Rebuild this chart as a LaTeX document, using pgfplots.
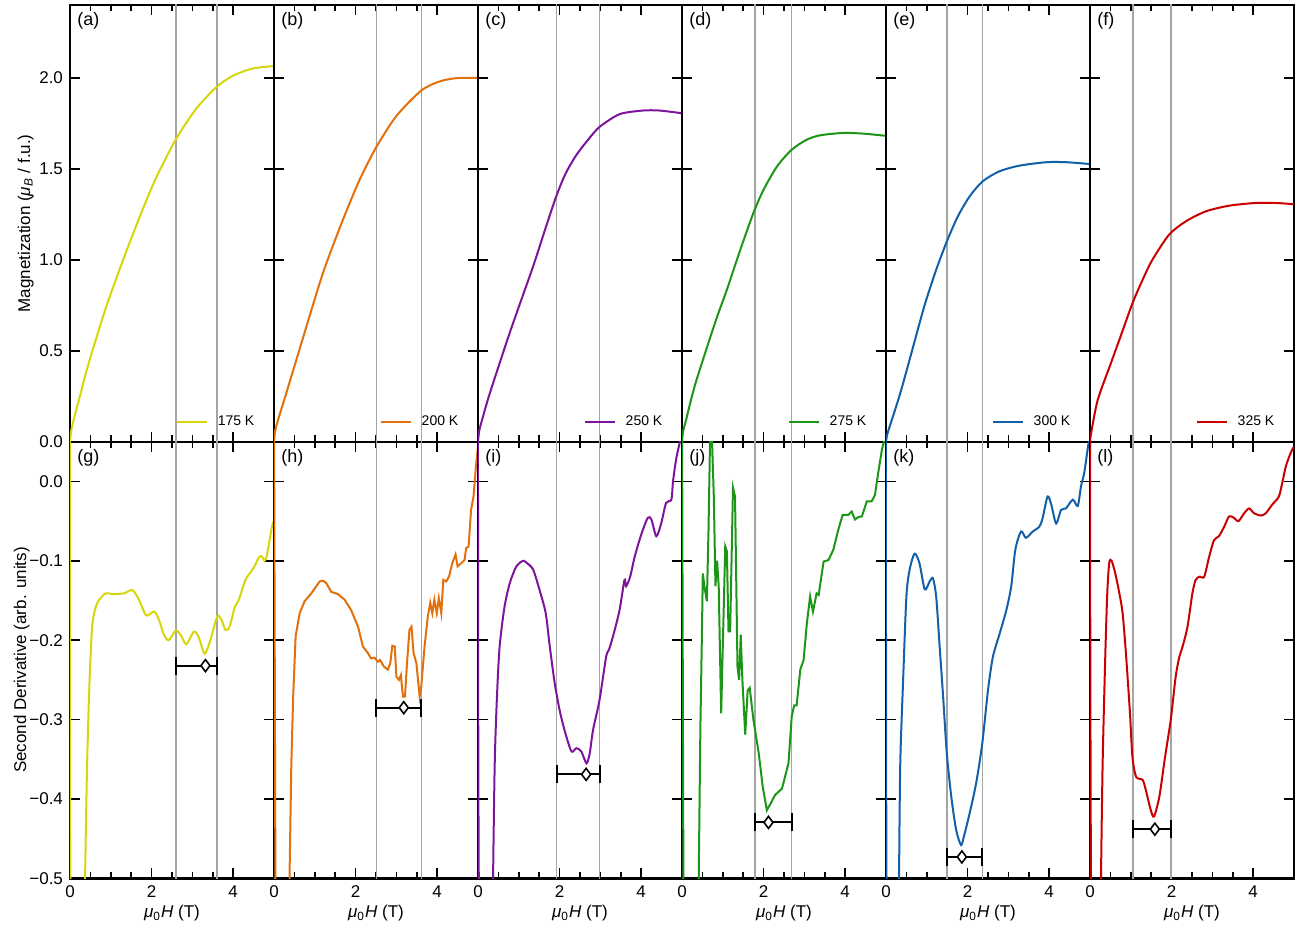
\documentclass[border=0pt]{standalone}
\usepackage{fontspec}
\setmainfont{Liberation Sans}
\usepackage{pgfplots}
\pgfplotsset{compat=1.18}
\usepgfplotslibrary{groupplots}
\definecolor{cA}{RGB}{214,214,10}
\definecolor{cB}{RGB}{226,112,12}
\definecolor{cC}{RGB}{125,20,155}
\definecolor{cD}{RGB}{28,150,22}
\definecolor{cE}{RGB}{18,96,168}
\definecolor{cF}{RGB}{202,0,0}
\definecolor{vg}{RGB}{165,165,165}
\tikzset{lab/.style={anchor=north west, inner sep=0pt, font=\fontsize{9}{10}\selectfont}}
\pgfplotsset{
  panel/.style={
    scale only axis, width=102pt, height=218.35pt,
    xmin=0, xmax=5, xtick={0,2,4}, minor x tick num=3,
    tick align=inside, major tick length=5pt, minor tick length=3.2pt,
    every tick/.style={black, line width=0.8pt},
    axis line style={line width=1.2pt},
    tick label style={font=\fontsize{8.5}{10}\selectfont},
    label style={font=\fontsize{8.5}{10}\selectfont},
    yticklabels={},
    legend style={draw=none, fill=none, at={(0.935,0.015)}, anchor=south east,
      font=\fontsize{7}{8}\selectfont, inner sep=1pt, column sep=3pt},
    legend image code/.code={\draw[#1] (0pt,0pt) -- (15pt,0pt);},
  },
  top/.style={panel, ymin=0, ymax=2.4, ytick={0,0.5,1,1.5,2}, xticklabels={}},
  bot/.style={panel, ymin=-0.5, ymax=0.05, ytick={-0.5,-0.4,-0.3,-0.2,-0.1,0},
    xticklabels={0,2,4}, xlabel={\textit{μ}\textsubscript{0}\textit{H} (T)},
    xlabel style={yshift=3pt}},
  vl/.style={vg, line width=0.75pt, forget plot},
  cur/.style={line width=1pt},
  sm/.style={line width=1pt, smooth, tension=0.45},
  eb/.style={black, line width=1pt, mark=|, mark size=4.5pt, forget plot,
    mark options={solid, line width=1pt}},
  dm/.style={only marks, mark=diamond*, mark size=3pt, forget plot,
    mark options={fill=white, draw=black, line width=0.8pt}},
}
\begin{document}
\begin{tikzpicture}
\begin{groupplot}[group style={group size=6 by 2, horizontal sep=0pt, vertical sep=0pt, group name=G}]
% ---------------- top row
\nextgroupplot[top, yticklabels={0.0,0.5,1.0,1.5,2.0}, ylabel={Magnetization (\textit{μ}\textsubscript{\textit{B}} / f.u.)}, ylabel shift=-4pt]
\addplot[vl] coordinates {(2.6,-1)(2.6,3)};
\addplot[vl] coordinates {(3.6,-1)(3.6,3)};
\addplot[cA, sm] coordinates {(0,0)(0.03,0.06)(0.1,0.13)(0.22,0.23)(0.43,0.41)(0.87,0.73)(1.32,1.01)(1.49,1.11)(1.77,1.27)(2.10,1.445)(2.59,1.66)(3.08,1.826)(3.57,1.945)(3.97,2.009)(4.46,2.05)(4.95,2.064)(5,2.065)};
\addlegendentry{175 K}
\node[lab] at (rel axis cs:0.034,0.984) {(a)};

\nextgroupplot[top]
\addplot[vl] coordinates {(2.51,-1)(2.51,3)};
\addplot[vl] coordinates {(3.61,-1)(3.61,3)};
\addplot[cB, sm] coordinates {(0,0)(0.03,0.06)(0.1,0.12)(0.30,0.266)(0.71,0.57)(1.20,0.927)(1.69,1.22)(2.10,1.44)(2.51,1.62)(3.00,1.79)(3.61,1.93)(4.06,1.98)(4.47,1.998)(5,2.0)};
\addlegendentry{200 K}
\node[lab] at (rel axis cs:0.034,0.984) {(b)};

\nextgroupplot[top]
\addplot[vl] coordinates {(1.93,-1)(1.93,3)};
\addplot[vl] coordinates {(2.98,-1)(2.98,3)};
\addplot[cC, sm] coordinates {(0,0)(0.03,0.06)(0.1,0.12)(0.29,0.266)(0.78,0.60)(1.35,0.963)(1.65,1.17)(1.92,1.35)(2.15,1.475)(2.41,1.575)(2.70,1.66)(2.98,1.73)(3.47,1.80)(4.04,1.82)(4.45,1.82)(5,1.805)};
\addlegendentry{250 K}
\node[lab] at (rel axis cs:0.034,0.984) {(c)};

\nextgroupplot[top]
\addplot[vl] coordinates {(1.79,-1)(1.79,3)};
\addplot[vl] coordinates {(2.69,-1)(2.69,3)};
\addplot[cD, sm] coordinates {(0,0)(0.03,0.06)(0.1,0.12)(0.33,0.32)(0.82,0.66)(1.10,0.835)(1.43,1.055)(1.75,1.257)(2.0,1.385)(2.33,1.513)(2.69,1.605)(3.06,1.66)(3.39,1.684)(3.96,1.697)(4.45,1.693)(5,1.681)};
\addlegendentry{275 K}
\node[lab] at (rel axis cs:0.034,0.984) {(d)};

\nextgroupplot[top]
\addplot[vl] coordinates {(1.49,-1)(1.49,3)};
\addplot[vl] coordinates {(2.36,-1)(2.36,3)};
\addplot[cE, sm] coordinates {(0,0)(0.03,0.04)(0.1,0.09)(0.38,0.29)(0.87,0.69)(1.0,0.789)(1.23,0.945)(1.49,1.10)(1.76,1.238)(2.05,1.348)(2.37,1.431)(2.78,1.486)(3.27,1.517)(3.93,1.536)(4.42,1.536)(5,1.526)};
\addlegendentry{300 K}
\node[lab] at (rel axis cs:0.034,0.984) {(e)};

\nextgroupplot[top]
\addplot[vl] coordinates {(1.05,-1)(1.05,3)};
\addplot[vl] coordinates {(1.98,-1)(1.98,3)};
\addplot[cF, sm] coordinates {(0,0)(0.03,0.05)(0.19,0.23)(0.51,0.43)(0.72,0.56)(1.04,0.76)(1.29,0.89)(1.53,1.0)(1.94,1.138)(2.35,1.211)(2.84,1.266)(3.41,1.297)(4.06,1.312)(4.55,1.312)(5,1.305)};
\addlegendentry{325 K}
\node[lab] at (rel axis cs:0.034,0.984) {(f)};

% ---------------- bottom row
\nextgroupplot[bot, yticklabels={−0.5,−0.4,−0.3,−0.2,−0.1,0.0}, ylabel={Second Derivative (arb. units)}, ylabel shift=-7pt]
\addplot[vl] coordinates {(2.6,-1)(2.6,3)};
\addplot[vl] coordinates {(3.6,-1)(3.6,3)};
\addplot[cA, sm] coordinates {(0,0.1)(0.03,-0.6)(0.36,-0.6)(0.37,-0.5)(0.42,-0.355)(0.48,-0.25)(0.55,-0.179)(0.67,-0.153)(0.87,-0.141)(1.04,-0.142)(1.32,-0.141)(1.53,-0.137)(1.69,-0.149)(1.85,-0.168)(1.93,-0.168)(2.07,-0.164)(2.18,-0.174)(2.30,-0.193)(2.42,-0.20)(2.59,-0.188)(2.71,-0.193)(2.85,-0.205)(3.04,-0.189)(3.16,-0.197)(3.30,-0.217)(3.44,-0.20)(3.61,-0.170)(3.71,-0.174)(3.81,-0.187)(3.91,-0.183)(4.04,-0.158)(4.14,-0.149)(4.30,-0.124)(4.50,-0.109)(4.64,-0.095)(4.71,-0.095)(4.77,-0.10)(4.83,-0.092)(4.95,-0.057)(5,-0.05)};
\addplot[eb] coordinates {(2.6,-0.232)(3.6,-0.232)};
\addplot[dm] coordinates {(3.32,-0.232)};
\node[lab] at (rel axis cs:0.034,0.984) {(g)};

\nextgroupplot[bot]
\addplot[vl] coordinates {(2.51,-1)(2.51,3)};
\addplot[vl] coordinates {(3.61,-1)(3.61,3)};
\addplot[cB, cur] coordinates {(0,0.1)(0.04,-0.6)(0.37,-0.6)(0.38,-0.5)(0.425,-0.355)(0.47,-0.271)(0.53,-0.195)(0.63,-0.166)(0.75,-0.151)(0.915,-0.141)(1.12,-0.126)(1.20,-0.125)(1.28,-0.128)(1.40,-0.139)(1.57,-0.142)(1.73,-0.149)(1.89,-0.162)(2.06,-0.183)(2.18,-0.208)(2.30,-0.216)(2.38,-0.223)(2.46,-0.222)(2.55,-0.227)(2.60,-0.225)(2.69,-0.233)(2.79,-0.237)(2.85,-0.229)(2.90,-0.207)(2.96,-0.208)(3.00,-0.246)(3.06,-0.25)(3.11,-0.244)(3.16,-0.271)(3.21,-0.271)(3.26,-0.229)(3.32,-0.187)(3.37,-0.183)(3.42,-0.216)(3.49,-0.229)(3.57,-0.271)(3.61,-0.258)(3.69,-0.208)(3.77,-0.170)(3.83,-0.153)(3.88,-0.166)(3.93,-0.149)(3.99,-0.166)(4.04,-0.147)(4.10,-0.166)(4.15,-0.124)(4.22,-0.126)(4.29,-0.12)(4.37,-0.103)(4.45,-0.092)(4.50,-0.107)(4.59,-0.103)(4.67,-0.099)(4.71,-0.084)(4.77,-0.082)(4.83,-0.036)(4.89,-0.019)(4.95,0.019)(5,0.044)};
\addplot[eb] coordinates {(2.51,-0.285)(3.61,-0.285)};
\addplot[dm] coordinates {(3.18,-0.285)};
\node[lab] at (rel axis cs:0.034,0.984) {(h)};

\nextgroupplot[bot]
\addplot[vl] coordinates {(1.93,-1)(1.93,3)};
\addplot[vl] coordinates {(2.98,-1)(2.98,3)};
\addplot[cC, sm] coordinates {(0,0.1)(0.04,-0.6)(0.36,-0.6)(0.37,-0.5)(0.41,-0.355)(0.465,-0.271)(0.53,-0.208)(0.65,-0.158)(0.78,-0.128)(0.94,-0.107)(1.10,-0.10)(1.18,-0.102)(1.35,-0.111)(1.51,-0.137)(1.66,-0.166)(1.76,-0.208)(1.88,-0.254)(2.00,-0.288)(2.13,-0.315)(2.29,-0.34)(2.41,-0.336)(2.53,-0.34)(2.66,-0.355)(2.74,-0.342)(2.82,-0.313)(2.98,-0.275)(3.14,-0.221)(3.21,-0.212)(3.31,-0.195)(3.47,-0.162)(3.59,-0.124)(3.63,-0.132)(3.73,-0.12)(3.84,-0.095)(4.0,-0.067)(4.16,-0.046)(4.25,-0.048)(4.37,-0.069)(4.49,-0.053)(4.61,-0.027)(4.74,-0.023)(4.78,0.0)(4.86,0.029)(4.96,0.052)(5,0.06)};
\addplot[eb] coordinates {(1.93,-0.369)(2.98,-0.369)};
\addplot[dm] coordinates {(2.65,-0.369)};
\node[lab] at (rel axis cs:0.034,0.984) {(i)};

\nextgroupplot[bot]
\addplot[vl] coordinates {(1.79,-1)(1.79,3)};
\addplot[vl] coordinates {(2.69,-1)(2.69,3)};
\addplot[cD, cur] coordinates {(0,0.1)(0.04,-0.6)(0.40,-0.6)(0.41,-0.5)(0.45,-0.313)(0.49,-0.187)(0.51,-0.116)(0.55,-0.132)(0.61,-0.151)(0.65,-0.061)(0.69,0.06)(0.73,0.06)(0.78,-0.019)(0.82,-0.132)(0.86,-0.10)(0.90,-0.132)(0.96,-0.292)(1.06,-0.082)(1.10,-0.088)(1.14,-0.189)(1.18,-0.189)(1.25,-0.008)(1.30,-0.019)(1.36,-0.233)(1.40,-0.25)(1.44,-0.193)(1.48,-0.25)(1.55,-0.319)(1.61,-0.263)(1.66,-0.26)(1.75,-0.30)(1.88,-0.342)(1.98,-0.385)(2.08,-0.414)(2.18,-0.405)(2.28,-0.395)(2.45,-0.387)(2.61,-0.355)(2.69,-0.296)(2.75,-0.282)(2.81,-0.282)(2.90,-0.237)(2.98,-0.225)(3.06,-0.179)(3.14,-0.145)(3.21,-0.164)(3.30,-0.141)(3.35,-0.143)(3.47,-0.101)(3.59,-0.099)(3.71,-0.086)(3.83,-0.061)(3.94,-0.042)(4.08,-0.042)(4.16,-0.038)(4.24,-0.048)(4.32,-0.045)(4.41,-0.044)(4.53,-0.025)(4.65,-0.025)(4.73,-0.017)(4.81,0.011)(4.90,0.04)(4.95,0.05)(5,0.06)};
\addplot[eb] coordinates {(1.79,-0.4295)(2.69,-0.4295)};
\addplot[dm] coordinates {(2.12,-0.4295)};
\node[lab] at (rel axis cs:0.034,0.984) {(j)};

\nextgroupplot[bot]
\addplot[vl] coordinates {(1.49,-1)(1.49,3)};
\addplot[vl] coordinates {(2.36,-1)(2.36,3)};
\addplot[cE, sm] coordinates {(0,0.1)(0.03,-0.6)(0.31,-0.6)(0.32,-0.5)(0.35,-0.355)(0.42,-0.25)(0.50,-0.145)(0.58,-0.111)(0.70,-0.091)(0.82,-0.103)(0.95,-0.136)(1.07,-0.126)(1.15,-0.122)(1.23,-0.145)(1.31,-0.204)(1.40,-0.271)(1.49,-0.342)(1.60,-0.397)(1.72,-0.439)(1.84,-0.458)(1.92,-0.445)(2.05,-0.418)(2.21,-0.380)(2.36,-0.33)(2.50,-0.263)(2.62,-0.221)(2.79,-0.191)(2.95,-0.162)(3.07,-0.132)(3.17,-0.086)(3.31,-0.063)(3.43,-0.071)(3.60,-0.063)(3.76,-0.057)(3.84,-0.046)(3.96,-0.019)(4.05,-0.029)(4.17,-0.053)(4.29,-0.036)(4.41,-0.034)(4.58,-0.023)(4.70,-0.031)(4.78,-0.006)(4.86,0.011)(4.94,0.040)(4.98,0.053)};
\addplot[eb] coordinates {(1.49,-0.473)(2.36,-0.473)};
\addplot[dm] coordinates {(1.86,-0.473)};
\node[lab] at (rel axis cs:0.034,0.984) {(k)};

\nextgroupplot[bot]
\addplot[vl] coordinates {(1.05,-1)(1.05,3)};
\addplot[vl] coordinates {(1.98,-1)(1.98,3)};
\addplot[cF, sm] coordinates {(0,0.1)(0.04,-0.6)(0.26,-0.6)(0.27,-0.5)(0.31,-0.355)(0.37,-0.229)(0.42,-0.145)(0.47,-0.103)(0.53,-0.10)(0.62,-0.116)(0.72,-0.141)(0.80,-0.166)(0.88,-0.216)(0.98,-0.292)(1.04,-0.347)(1.13,-0.372)(1.29,-0.376)(1.37,-0.389)(1.49,-0.414)(1.57,-0.422)(1.70,-0.397)(1.84,-0.347)(1.98,-0.30)(2.10,-0.246)(2.19,-0.221)(2.27,-0.208)(2.39,-0.183)(2.51,-0.141)(2.59,-0.124)(2.69,-0.12)(2.80,-0.12)(2.92,-0.095)(3.04,-0.074)(3.16,-0.069)(3.29,-0.057)(3.41,-0.044)(3.53,-0.046)(3.64,-0.05)(3.78,-0.04)(3.90,-0.034)(4.02,-0.04)(4.19,-0.043)(4.31,-0.04)(4.47,-0.029)(4.63,-0.019)(4.72,0.0)(4.80,0.019)(4.92,0.036)(5,0.044)};
\addplot[eb] coordinates {(1.05,-0.438)(1.98,-0.438)};
\addplot[dm] coordinates {(1.59,-0.438)};
\node[lab] at (rel axis cs:0.034,0.984) {(l)};
\end{groupplot}
\pgfresetboundingbox
\path (G c1r1.north west) ++(-35pt,2.5pt) coordinate (BB1);
\path (BB1) ++(652pt,-464pt) coordinate (BB2);
\path[use as bounding box] (BB1) rectangle (BB2);
\end{tikzpicture}
\end{document}
